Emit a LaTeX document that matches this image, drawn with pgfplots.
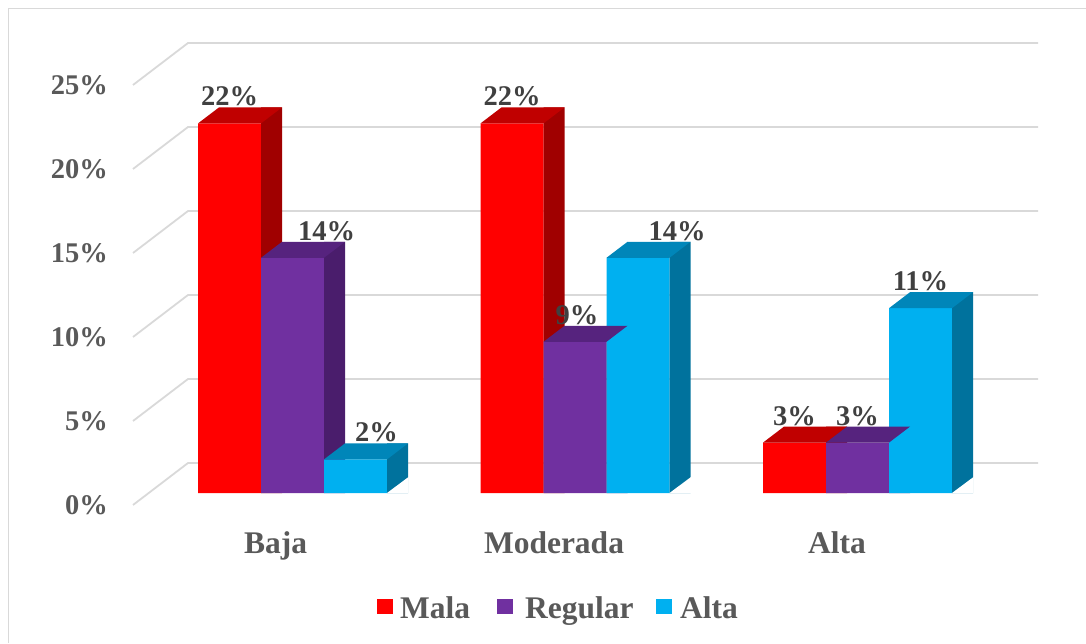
\documentclass[border=0pt]{standalone}
\usepackage{pgfplots}
\pgfplotsset{compat=1.18}
\usepackage{pgfplotstable}
\usepackage{fontspec}
\setmainfont{Liberation Serif}

\definecolor{mala}{HTML}{FF0000}
\definecolor{malatop}{HTML}{C00000}
\definecolor{malaside}{HTML}{A00000}
\definecolor{regular}{HTML}{7030A0}
\definecolor{regulartop}{HTML}{56237E}
\definecolor{regularside}{HTML}{4A1D6C}
\definecolor{alta}{HTML}{00B0F0}
\definecolor{altatop}{HTML}{0086B9}
\definecolor{altaside}{HTML}{00729D}
\definecolor{gridc}{HTML}{D9D9D9}
\definecolor{tickc}{HTML}{595959}
\definecolor{labc}{HTML}{404040}

% top face of a 3D bar (front width 63, depth 21 x 16)
\pgfdeclareplotmark{topface}{%
  \pgfpathmoveto{\pgfpointorigin}%
  \pgfpathlineto{\pgfpoint{63pt}{0pt}}%
  \pgfpathlineto{\pgfpoint{84pt}{16pt}}%
  \pgfpathlineto{\pgfpoint{21pt}{16pt}}%
  \pgfpathclose\pgfusepathqfill}
% removes the part of the side rectangle below the slanted bottom edge
\pgfdeclareplotmark{footcut}{%
  \pgfpathmoveto{\pgfpointorigin}%
  \pgfpathlineto{\pgfpoint{21.5pt}{0pt}}%
  \pgfpathlineto{\pgfpoint{21.5pt}{16pt}}%
  \pgfpathclose\pgfusepathqfill}

% group positions (x), values in percent, data-label horizontal offset (dx)
\pgfplotstableread{
x v dx
292.5 22 0
575 22 0
857.5 3 0
}\mala
\pgfplotstableread{
x v dx
292.5 14 34
575 9 2
857.5 3 0
}\regular
\pgfplotstableread{
x v dx
292.5 2 21
575 14 39
857.5 11 0
}\alta

\newcommand{\labfont}{\fontsize{28.5pt}{34pt}\selectfont\bfseries}
\newcommand{\catfont}{\fontsize{31.5pt}{38pt}\selectfont\bfseries}

\begin{document}
\begin{tikzpicture}
\begin{axis}[
  set layers,
  at={(0pt,0pt)}, anchor=south west,
  x=1pt, y=16.8pt,
  xmin=0, xmax=1086, ymin=-8.928571, ymax=29.345238,
  clip=false,
  /pgf/number format/assume math mode=true,
  axis line style={draw=none},
  tick style={draw=none},
  major tick length=0pt,
  ytick={0,5,10,15,20,25},
  yticklabels={0\%,5\%,10\%,15\%,20\%,25\%},
  yticklabel style={font=\labfont, text=tickc, anchor=east, inner sep=0pt, xshift=108pt, yshift=-12pt},
  xtick={275.5,554,837},
  xticklabels={Baja,Moderada,Alta},
  xticklabel style={font=\catfont, text=tickc, anchor=base, inner sep=0pt, yshift=90pt},
]
% 3D gridlines: slanted side wall + back wall
\pgfplotsinvokeforeach{0,5,10,15,20,25}{
  \draw[gridc, line width=1.8pt] (axis cs:133,{#1-0.714286}) -- (axis cs:188,{#1+1.785714}) -- (axis cs:1038,{#1+1.785714});
}

% ---- Mala
\addplot[ybar, bar width=63pt, bar shift=-63pt, fill=mala, draw=none] table[x=x, y=v] {\mala};
\addplot[ybar, bar width=21pt, bar shift=-21pt, fill=malaside, draw=none] table[x=x, y expr=\thisrow{v}+0.952381] {\mala};
\addplot[only marks, mark=topface, mark options={fill=malatop, draw=none}] table[x expr=\thisrow{x}-94.5, y=v] {\mala};

% ---- Regular
\addplot[ybar, bar width=63pt, bar shift=0pt, fill=regular, draw=none] table[x=x, y=v] {\regular};
\addplot[ybar, bar width=21pt, bar shift=42pt, fill=regularside, draw=none] table[x=x, y expr=\thisrow{v}+0.952381] {\regular};
\addplot[only marks, mark=topface, mark options={fill=regulartop, draw=none}] table[x expr=\thisrow{x}-31.5, y=v] {\regular};

% ---- Alta
\addplot[ybar, bar width=63pt, bar shift=63pt, fill=alta, draw=none] table[x=x, y=v] {\alta};
\addplot[ybar, bar width=21pt, bar shift=105pt, fill=altaside, draw=none] table[x=x, y expr=\thisrow{v}+0.952381] {\alta};
\addplot[only marks, mark=topface, mark options={fill=altatop, draw=none}] table[x expr=\thisrow{x}+31.5, y=v] {\alta};
\addplot[only marks, mark=footcut, mark options={fill=white, draw=none}] table[x expr=\thisrow{x}+94.5, y expr=0] {\alta};

% ---- data labels (on top of everything)
\pgfplotsset{every node near coord/.append style={font=\labfont, text=labc, anchor=base, inner sep=0pt, yshift=17.5pt}}
\addplot[on layer=axis foreground, only marks, mark=none, nodes near coords={\pgfmathprintnumber{\pgfplotspointmeta}\%}] table[x expr=\thisrow{x}-63+\thisrow{dx}, y=v] {\mala};
\addplot[on layer=axis foreground, only marks, mark=none, nodes near coords={\pgfmathprintnumber{\pgfplotspointmeta}\%}] table[x expr=\thisrow{x}+\thisrow{dx}, y=v] {\regular};
\addplot[on layer=axis foreground, only marks, mark=none, nodes near coords={\pgfmathprintnumber{\pgfplotspointmeta}\%}] table[x expr=\thisrow{x}+63+\thisrow{dx}, y=v] {\alta};
\end{axis}

% chart frame (only top and left edges visible in the reference)
\draw[gridc, line width=1.5pt] (8.5pt,0pt) -- (8.5pt,634.5pt) -- (1086pt,634.5pt);

% legend
\fill[mala] (377pt,29pt) rectangle (393pt,44pt);
\node[anchor=base west, inner sep=0pt, font=\catfont, text=tickc] at (400pt,25pt) {Mala};
\fill[regular] (497pt,29pt) rectangle (513pt,44pt);
\node[anchor=base west, inner sep=0pt, font=\catfont, text=tickc] at (525pt,25pt) {Regular};
\fill[alta] (656pt,29pt) rectangle (672pt,44pt);
\node[anchor=base west, inner sep=0pt, font=\catfont, text=tickc] at (680pt,25pt) {Alta};

\pgfresetboundingbox
\useasboundingbox (0pt,0pt) rectangle (1086pt,643pt);
\end{tikzpicture}
\end{document}
